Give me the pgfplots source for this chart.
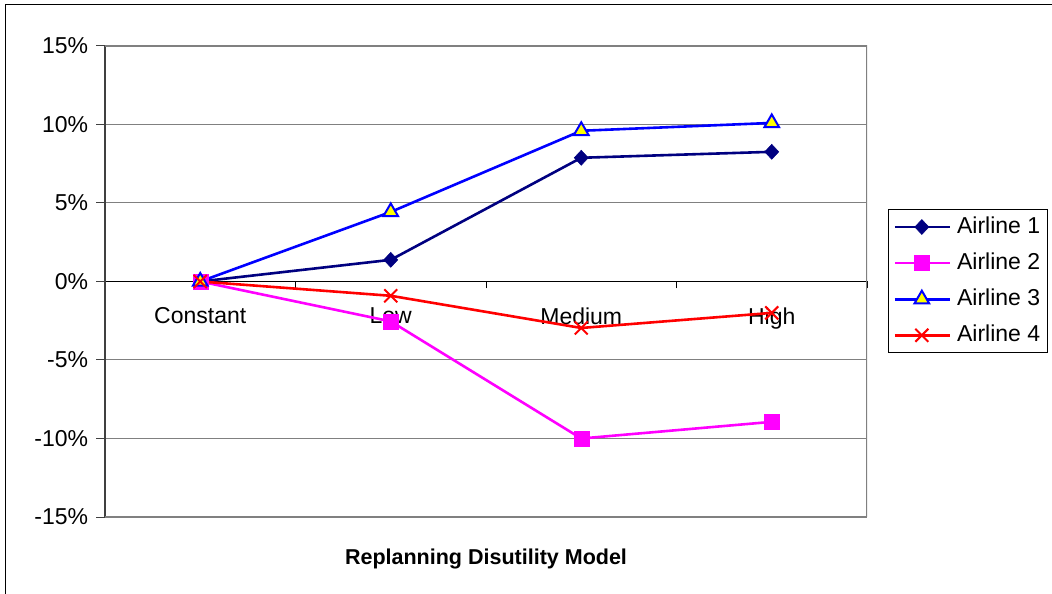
\documentclass[border=0pt]{standalone}
\usepackage{pgfplots}
\pgfplotsset{compat=1.18}
\usepackage{fontspec}
\setmainfont{Liberation Sans}
\definecolor{navyA}{HTML}{000080}
\definecolor{magA}{HTML}{FF00FF}
\definecolor{blueA}{HTML}{0000FF}
\definecolor{yellowA}{HTML}{FFFF00}
\definecolor{redA}{HTML}{FF0000}
\definecolor{gridA}{HTML}{808080}
\begin{document}
\fontsize{23bp}{27bp}\selectfont
\begin{tikzpicture}
\useasboundingbox (0,0) rectangle (1052bp,594bp);
\draw[black,line width=1bp] (5bp,-10bp) -- (5bp,589.5bp) -- (1070bp,589.5bp);
\begin{axis}[
 at={(105bp,77bp)}, anchor=south west,
 scale only axis, width=762bp, height=471bp,
 xmin=-0.5, xmax=3.5, ymin=-15, ymax=15,
 axis x line=middle, axis y line=left,
 axis line style={-},
 x axis line style={black, line width=1bp},
 y axis line style={black!75, line width=1.5bp},
 tick align=outside,
 xtick={0,1,2,3}, xticklabels={Constant,Low,Medium,High},
 major x tick style={draw=none},
 minor xtick={0.5,1.5,2.5,3.5},
 minor x tick style={black, line width=1bp},
 minor tick length=7bp,
 major tick length=9bp,
 ytick={-15,-10,...,15},
 yticklabel={\pgfmathprintnumber{\tick}\%},
 /pgf/number format/assume math mode=true,
 y tick style={black!75, line width=1bp},
 ymajorgrids, grid style={gridA, line width=1bp},
 tick label style={font=\fontsize{23bp}{27bp}\selectfont},
 xticklabel style={yshift=-9bp},
 xlabel={Replanning Disutility Model},
 xlabel style={at={(axis description cs:0.5,-0.0885)}, anchor=center, font=\bfseries\fontsize{21.5bp}{26bp}\selectfont},
 legend style={at={(axis description cs:1.0276,0.654)}, anchor=north west, draw=black, line width=1bp, font=\fontsize{23bp}{27bp}\selectfont, row sep=12bp, column sep=4bp, inner xsep=5bp, inner ysep=5.5bp},
 legend cell align=left,
 legend image code/.code={\draw[mark repeat=2,mark phase=2] plot coordinates {(0bp,0bp) (27bp,0bp) (55bp,0bp)};},
]
\draw[gridA, line width=1.5bp] (rel axis cs:0,1) -- (rel axis cs:1,1) -- (rel axis cs:1,0) -- (rel axis cs:0,0);
\addplot[navyA, line width=2.6bp, mark=diamond*, mark size=7.5bp, mark options={solid, fill=navyA, xscale=1.25, line width=0.5bp}]
 coordinates {(0,0) (1,1.38) (2,7.88) (3,8.26)};
\addlegendentry{Airline 1}
\addplot[magA, line width=2.6bp, mark=square*, mark size=7.5bp, mark options={solid, fill=magA, line width=0.5bp}]
 coordinates {(0,0) (1,-2.54) (2,-10.0) (3,-8.94)};
\addlegendentry{Airline 2}
\addplot[blueA, line width=2.6bp, mark=triangle*, mark size=8.5bp, mark options={solid, fill=yellowA, draw=blueA, line width=2bp}]
 coordinates {(0,0) (1,4.43) (2,9.6) (3,10.1)};
\addlegendentry{Airline 3}
\addplot[redA, line width=2.6bp, mark=x, mark size=9.2bp, mark options={solid, line width=2bp}]
 coordinates {(0,0) (1,-0.91) (2,-2.96) (3,-2.0)};
\addlegendentry{Airline 4}
\end{axis}
\end{tikzpicture}
\end{document}
